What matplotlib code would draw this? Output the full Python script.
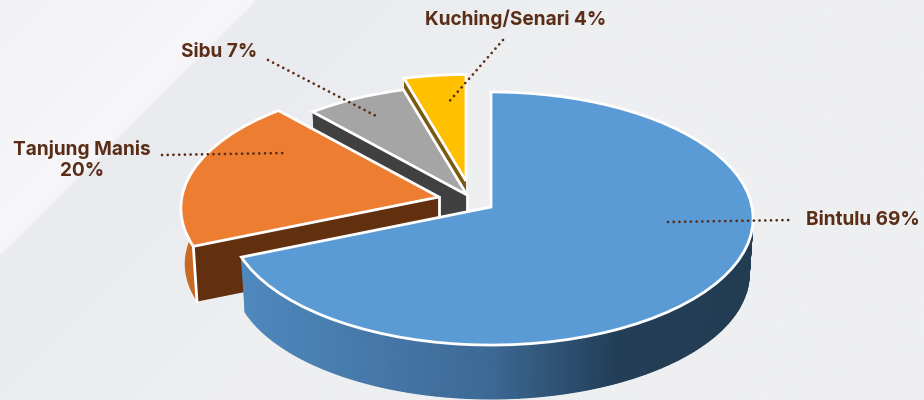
import numpy as np
import matplotlib
matplotlib.use("Agg")
import matplotlib.pyplot as plt
from matplotlib.transforms import Transform
from matplotlib.colors import LinearSegmentedColormap

# ---- data ----
categories = ["Bintulu", "Tanjung Manis", "Sibu", "Kuching/Senari"]
values = [68.7, 19.7, 7.1, 4.5]          # slice sizes as drawn
labels = ["Bintulu 69%", "Tanjung Manis\n20%", "Sibu 7%", "Kuching/Senari 4%"]

# ---- styles / layout ----
top_colors = ["#5b9bd5", "#ed7d31", "#a5a5a5", "#ffc000"]
arc_colors = [None, "#c96a24", "#6d6d6d", "#8a6a10"]
cut_colors = ["#223c52", "#63300f", "#404040", "#7a5a10"]
apexes = [(491, 207), (439, 197), (467, 195), (466, 181)]
radii = [1.0, 0.985, 0.945, 0.92]
draw_rank = [3, 2, 1, 0]
A, B, K = 261.0, 125.5, 0.0909
DEPTH, BOTTOM_SCALE = 56.0, 0.985
TEXT = "#5a2d17"
label_pos = [(863, 220), (82, 160), (219, 52), (516, 19)]
leaders = [((668, 222), (792, 220)), ((162, 155), (285, 153)),
           ((268, 60), (378, 117)), ((503, 40), (447, 104))]


def project(u, v, apex, r, z=0.0):
    u, v = np.asarray(u, float) * r, np.asarray(v, float) * r
    w = 1 + K * v
    s = BOTTOM_SCALE if z else 1.0
    return apex[0] + s * A * u / w, apex[1] - s * B * v / w + z


class Perspective(Transform):
    input_dims = output_dims = 2
    is_separable = False
    has_inverse = False

    def __init__(self, apex, r):
        super().__init__()
        self.apex, self.r = apex, r

    def transform_non_affine(self, xy):
        xy = np.asarray(xy, float)
        x, y = project(xy[:, 0], xy[:, 1], self.apex, self.r)
        return np.column_stack([x, y])


fig = plt.figure(figsize=(9.24, 4.0), dpi=100, facecolor="#eeeff1")
ax = fig.add_axes([0, 0, 1, 1])

wedges, _ = ax.pie(values, colors=top_colors, startangle=90, counterclock=False,
                   radius=1.0,
                   wedgeprops=dict(edgecolor="white", linewidth=2.0, joinstyle="miter"))
ax.set_aspect("auto")

# background: a soft diagonal band
gx, gy = np.meshgrid(np.arange(0, 925, 4), np.arange(0, 401, 4))
d = gx + gy
light = LinearSegmentedColormap.from_list("bg", ["#f2f2f4", "#f7f7f9"])
dark = LinearSegmentedColormap.from_list("bg2", ["#e9eaee", "#eeeff1"])
bg = np.where((d < 256)[..., None],
              light(np.clip(d / 256, 0, 1))[..., :3],
              dark(np.clip((d - 256) / 350, 0, 1))[..., :3])
ax.imshow(bg, extent=(0, 924, 400, 0), aspect="auto", zorder=0, interpolation="bilinear")

ax.set_xlim(0, 924)
ax.set_ylim(400, 0)
ax.axis("off")

blue_map = LinearSegmentedColormap.from_list(
    "wall", [(0.0, "#4f88bd"), (0.48, "#3d6a96"), (0.74, "#233e57"), (1.0, "#223c52")])

fractions = np.asarray(values) / np.sum(values)
edges = np.concatenate([[0], np.cumsum(fractions)]) * 2 * np.pi

for i, wedge in enumerate(wedges):
    apex, r = apexes[i], radii[i]
    wedge.set_transform(Perspective(apex, r) + ax.transData)
    z0 = 10 * draw_rank[i] + 1
    wedge.set_zorder(z0 + 5)

    t1, t2 = edges[i], edges[i + 1]
    # outer rim wall
    th = np.linspace(t1, t2, max(int(np.degrees(t2 - t1)), 2) + 1)
    xt, yt = project(np.sin(th), np.cos(th), apex, r)
    xb, yb = project(np.sin(th), np.cos(th), apex, r, DEPTH)
    if arc_colors[i] is None:
        shade = np.clip((xt - 245) / 505, 0, 1)
        ax.pcolormesh(np.vstack([xt, xb]), np.vstack([yt, yb]),
                      np.vstack([shade, shade]), cmap=blue_map, vmin=0, vmax=1,
                      shading="gouraud", zorder=z0)
    else:
        ax.fill(np.r_[xt, xb[::-1]], np.r_[yt, yb[::-1]],
                color=arc_colors[i], lw=0, zorder=z0)
    # cut faces (the Bintulu ones are hidden under its own top)
    ax_b, ay_b = project(0, 0, apex, r, DEPTH)
    if i > 0:
        for t in (t1, t2):
            xr, yr = project(np.sin(t), np.cos(t), apex, r)
            xr_b, yr_b = project(np.sin(t), np.cos(t), apex, r, DEPTH)
            ax.fill([apex[0], xr, xr_b, ax_b], [apex[1], yr, yr_b, ay_b],
                    color=cut_colors[i], lw=0, zorder=z0 + (1 if t == t1 else 0.5))
    # white corner lines on the Tanjung Manis and Sibu walls
    if i in (1, 2):
        ax.plot([apex[0], ax_b], [apex[1], ay_b], color="white", lw=2, zorder=z0 + 2)
    if i == 1:
        xr, yr = project(np.sin(t1), np.cos(t1), apex, r)
        xr_b, yr_b = project(np.sin(t1), np.cos(t1), apex, r, DEPTH)
        ax.plot([xr, xr_b], [yr, yr_b], color="white", lw=2, zorder=z0 + 2)

# leader lines
for (p, q) in leaders:
    ax.plot([p[0], q[0]], [p[1], q[1]], color="#5a2d17", lw=2.0,
            linestyle=(0, (0.01, 2.05)), dash_capstyle="round", zorder=100)

# labels
for lab, (x, y) in zip(labels, label_pos):
    ax.text(x, y, lab, color=TEXT, fontsize=13.7, fontweight="bold",
            family=["Inter", "DejaVu Sans"], ha="center", va="center",
            linespacing=1.15, zorder=101)

fig.savefig("out.png", dpi=100, facecolor=fig.get_facecolor())
